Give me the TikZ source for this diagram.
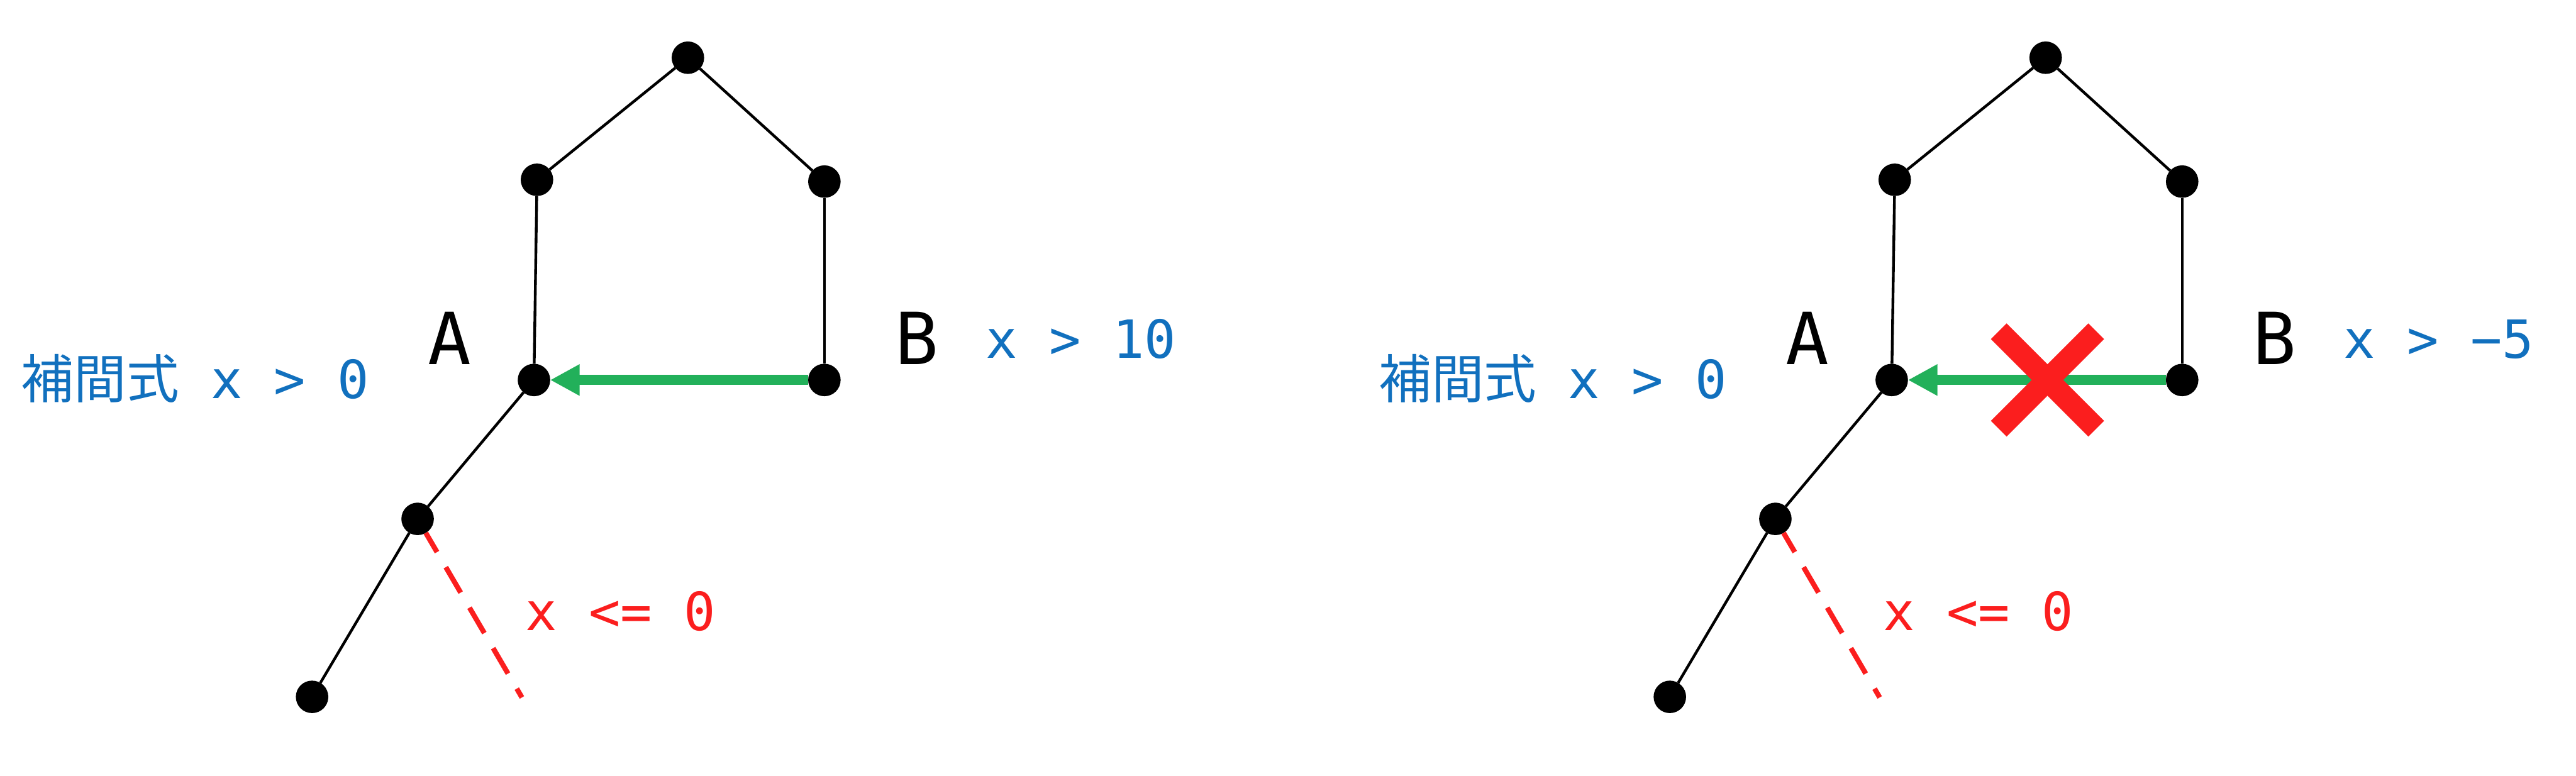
\documentclass[tikz,border=0pt]{standalone}
\usepackage{fontspec}
\setmonofont{DejaVu Sans Mono}
\newfontfamily\jafont{Noto Sans CJK JP}
\usepackage{tikz}
\usetikzlibrary{arrows.meta}
\definecolor{condblue}{HTML}{1170BE}
\definecolor{okgreen}{HTML}{22B05A}
\definecolor{ngred}{HTML}{FB1E1E}

\begin{document}
\begin{tikzpicture}[
 font=\ttfamily\fontsize{24.9}{30}\selectfont,
 dot/.style={circle,fill=black,minimum size=5.4mm,inner sep=0pt,outer sep=0pt},
 edge/.style={line width=1.3pt,draw=black},
 cut/.style={line width=2.4pt,draw=ngred,dash pattern=on 4.9mm off 2.9mm,dash phase=1.2mm},
 arr/.style={-{Triangle[length=4.9mm,width=4.9mm]},line width=4.7pt,draw=okgreen},
 cond/.style={anchor=base west,inner sep=0pt},
 point/.style={font=\ttfamily\fontsize{34}{40}\selectfont,anchor=base,inner sep=0pt},
 ng/.style={line width=10.5pt,draw=ngred}
]
\useasboundingbox (0,0) rectangle (42.84,12.9);

\node[dot] (a1) at (11.44,11.94) {};
\node[dot] (a2) at (8.93,9.91) {};
\node[dot] (a3) at (13.71,9.88) {};
\node[dot] (a4) at (8.88,6.58) {};
\node[dot] (a5) at (13.71,6.58) {};
\node[dot] (a6) at (6.945,4.27) {};
\node[dot] (a7) at (5.19,1.31) {};
\coordinate (a8) at (8.68,1.30);
\draw[edge] (a1)--(a2); \draw[edge] (a1)--(a3);
\draw[edge] (a2)--(a4); \draw[edge] (a3)--(a5);
\draw[edge] (a4)--(a6); \draw[edge] (a6)--(a7);
\draw[cut] (a6)--(a8);
\draw[arr] (a5)--(a4);
\node[point] (la) at (7.48,6.84) {A};
\node[point] (lb) at (15.25,6.84) {B};
\node[cond,text=condblue] (ca) at (0.345,6.27) {{\jafont 補間式} x > 0};
\node[cond,text=condblue] (cb) at (16.39,6.945) {x > 10};
\node[cond,text=ngred] (cc) at (8.73,2.42) {x <= 0};

\node[dot] (b1) at (34.02,11.94) {};
\node[dot] (b2) at (31.51,9.91) {};
\node[dot] (b3) at (36.29,9.88) {};
\node[dot] (b4) at (31.46,6.58) {};
\node[dot] (b5) at (36.29,6.58) {};
\node[dot] (b6) at (29.525,4.27) {};
\node[dot] (b7) at (27.77,1.31) {};
\coordinate (b8) at (31.26,1.30);
\draw[edge] (b1)--(b2); \draw[edge] (b1)--(b3);
\draw[edge] (b2)--(b4); \draw[edge] (b3)--(b5);
\draw[edge] (b4)--(b6); \draw[edge] (b6)--(b7);
\draw[cut] (b6)--(b8);
\draw[arr] (b5)--(b4);
\coordinate (ng) at (34.05,6.58);
\draw[ng] (ng) +(-0.81,0.81) -- +(0.81,-0.81);
\draw[ng] (ng) +(-0.81,-0.81) -- +(0.81,0.81);
\node[point] (ra) at (30.06,6.84) {A};
\node[point] (rb) at (37.83,6.84) {B};
\node[cond,text=condblue] (rca) at (22.925,6.27) {{\jafont 補間式} x > 0};
\node[cond,text=condblue] (rcb) at (38.97,6.945) {x > −5};
\node[cond,text=ngred] (rcc) at (31.31,2.42) {x <= 0};
\end{tikzpicture}
\end{document}
